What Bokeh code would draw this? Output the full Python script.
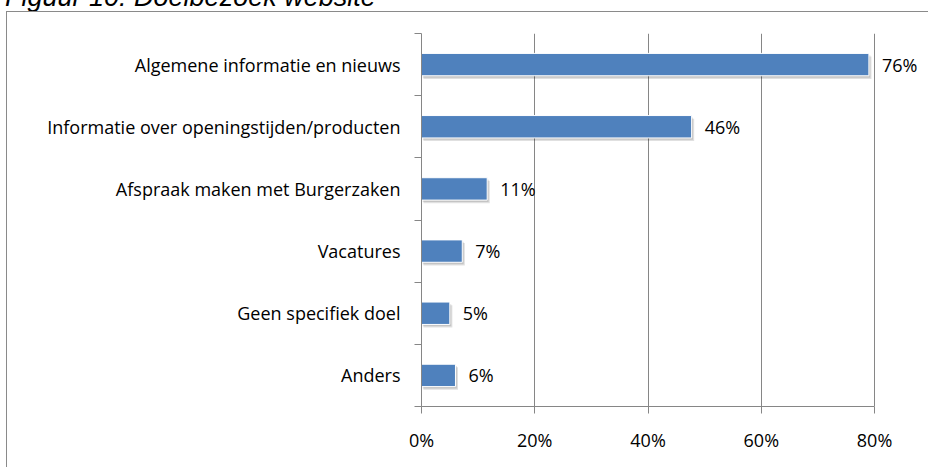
from bokeh.plotting import figure
from bokeh.models import ColumnDataSource, FixedTicker, PrintfTickFormatter, Range1d, LabelSet, Div
from bokeh.layouts import column
from bokeh.transform import dodge
from bokeh.core.properties import value
from bokeh.embed import file_html
from bokeh.resources import INLINE

title = "Figuur 10: Doelbezoek website"
categories = ["Algemene informatie en nieuws",
              "Informatie over openingstijden/producten",
              "Afspraak maken met Burgerzaken",
              "Vacatures",
              "Geen specifiek doel",
              "Anders"]
values = [79.0, 47.7, 11.6, 7.2, 5.0, 6.0]
value_labels = ["76%", "46%", "11%", "7%", "5%", "6%"]
x_ticks = [0, 20, 40, 60, 80]

n = len(categories)
ypos = [n - 1 - i + 0.5 for i in range(n)]
src = ColumnDataSource(dict(y=ypos, v=values, lab=value_labels, cat=categories))

FONT = "Open Sans"
FS = "18px"
GREY = "#868686"

p = figure(width=922, height=456, output_backend="svg", toolbar_location=None,
           x_range=Range1d(0, 89.7), y_range=Range1d(0, n),
           min_border_left=414, min_border_right=0, min_border_top=21, min_border_bottom=62)
p.margin = (0, 0, 0, 6)
p.styles = {"border-top": "1px solid #8a8a8a", "border-left": "1px solid #8a8a8a"}
p.outline_line_color = None
p.background_fill_color = "white"
p.border_fill_color = "white"

# grid
p.ygrid.grid_line_color = None
p.xgrid.ticker = FixedTicker(ticks=x_ticks)
p.xgrid.grid_line_color = GREY
p.xgrid.grid_line_width = 1

# shadow
p.hbar(y=dodge("y", -0.05), left=0.35, right=dodge("v", 0.45), height=0.36, source=src,
       fill_color="#000000", fill_alpha=0.12, line_color=None)
p.hbar(y=dodge("y", -0.03), left=0.2, right=dodge("v", 0.25), height=0.36, source=src,
       fill_color="#000000", fill_alpha=0.12, line_color=None)
# bars
p.hbar(y="y", left=0, right="v", height=0.36, source=src,
       fill_color="#4F81BD", line_color="white", line_width=1)

labels = LabelSet(x="v", y="y", text="lab", source=src, x_offset=13,
                  text_font=value(FONT), text_font_size=value(FS), text_color="black",
                  text_baseline="middle", text_align="left")
p.add_layout(labels)

# x axis
xa = p.xaxis[0]
xa.ticker = FixedTicker(ticks=x_ticks)
xa.bounds = (0, 80)
xa.formatter = PrintfTickFormatter(format="%d%%")
xa.axis_line_color = GREY
xa.major_tick_line_color = GREY
xa.major_tick_in = 0
xa.major_tick_out = 7
xa.minor_tick_line_color = None
xa.major_label_text_font = FONT
xa.major_label_text_font_size = FS
xa.major_label_text_color = "black"
xa.major_label_standoff = 14

# y axis
ya = p.yaxis[0]
ya.ticker = FixedTicker(ticks=ypos, minor_ticks=list(range(n + 1)))
ya.major_label_overrides = {y: c for y, c in zip(ypos, categories)}
ya.axis_line_color = GREY
ya.major_tick_line_color = None
ya.minor_tick_line_color = GREY
ya.minor_tick_in = 0
ya.minor_tick_out = 7
ya.major_tick_in = 0
ya.major_tick_out = 0
ya.major_label_text_font = FONT
ya.major_label_text_font_size = FS
ya.major_label_text_color = "black"
ya.major_label_standoff = 14

head = Div(text=('<div style="position:relative; left:5px; top:-22px; white-space:nowrap; '
                 'font-family:\'Liberation Sans\', Arial, sans-serif; font-style:italic; '
                 'font-size:27px; color:#000;">' + title + '</div>'),
           width=928, height=11, margin=(0, 0, 0, 0), styles={"overflow": "hidden"})

layout = column(head, p, spacing=0)
open("out.html", "w").write(file_html(layout, INLINE))
